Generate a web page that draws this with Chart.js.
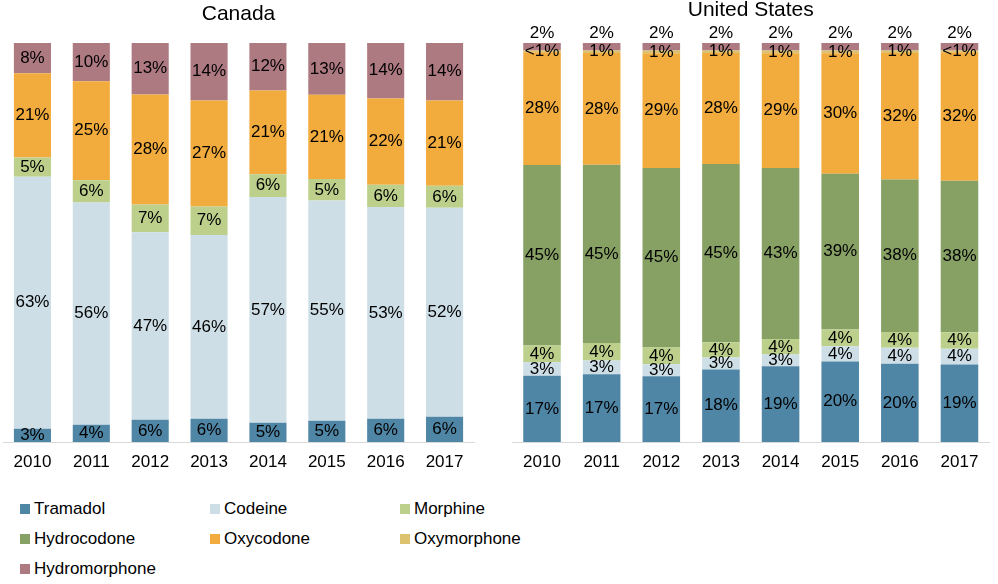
<!DOCTYPE html>
<html>
<head>
<meta charset="utf-8">
<script src="https://cdn.jsdelivr.net/npm/chart.js@4.4.0/dist/chart.umd.min.js"></script>
<style>
    body { margin: 0; background: #fff; font-family: "Liberation Sans", Arial, sans-serif; }
    #page { position: relative; width: 998px; height: 584px; overflow: hidden; }
    canvas { position: absolute; top: 0; }
    #canadaChart { left: 0; }
    #usChart { left: 500px; }
    #legend { position: absolute; left: 20px; top: 494px; width: 600px; }
    .item { position: absolute; height: 30px; display: flex; align-items: center; font-size: 17px; color: #000; white-space: nowrap; }
    .box { width: 10px; height: 10px; margin-right: 4px; }
</style>
</head>
<body>
<div id="page">
    <canvas id="canadaChart" width="500" height="484"></canvas>
    <canvas id="usChart" width="498" height="484"></canvas>
    <div id="legend"></div>
</div>
<script>
const years = ["2010", "2011", "2012", "2013", "2014", "2015", "2016", "2017"];
const drugs = ["Tramadol", "Codeine", "Morphine", "Hydrocodone", "Oxycodone", "Oxymorphone", "Hydromorphone"];
const colors = ["#4f86a6", "#cddee7", "#bcd08c", "#87a165", "#f2ab3d", "#dcc26f", "#ae7a81"];

// Canada (% of opioid dispensing)
const caTramadol = [3.3, 4.3, 5.6, 5.8, 4.8, 5.3, 5.8, 6.3];
const caCodeine = [63.2, 55.7, 47.0, 46.1, 56.6, 55.2, 53.1, 52.4];
const caMorphine = [4.8, 5.6, 6.9, 7.1, 5.7, 5.4, 5.6, 5.5];
const caOxycodone = [21.1, 24.8, 27.6, 26.6, 21.0, 21.1, 21.6, 21.4];
const caHydromorphone = [7.6, 9.6, 12.9, 14.4, 11.9, 13.0, 13.9, 14.4];

// United States
const usTramadol = [16.6, 17.0, 16.5, 18.2, 19.0, 20.2, 19.6, 19.4];
const usCodeine = [3.4, 3.4, 3.0, 3.0, 2.9, 3.8, 4.0, 4.0];
const usMorphine = [4.2, 4.4, 4.2, 3.8, 3.9, 4.2, 4.0, 4.1];
const usHydrocodone = [45.2, 44.7, 45.0, 44.7, 42.9, 39.0, 38.2, 38.0];
const usOxycodone = [28.3, 28.0, 28.7, 27.8, 28.7, 30.2, 31.7, 32.2];
const usOxymorphone = [0.4, 0.6, 0.7, 0.6, 0.7, 0.7, 0.6, 0.4];
const usHydromorphone = [1.9, 1.9, 1.9, 1.9, 1.9, 1.9, 1.9, 1.9];

const labelFont = "17px 'Liberation Sans', Arial, sans-serif";

function pctText(v) {
    if (v < 0.5) return "<1%";
    return Math.round(v) + "%";
}

// draws the percentage inside each segment (or above the bar when asked)
const segmentLabels = {
    id: "segmentLabels",
    afterDatasetsDraw(chart) {
        const c = chart.ctx;
        c.save();
        c.font = labelFont;
        c.fillStyle = "#000";
        c.textAlign = "center";
        c.textBaseline = "middle";
        chart.data.datasets.forEach(function (ds, i) {
            chart.getDatasetMeta(i).data.forEach(function (bar, j) {
                const v = ds.data[j];
                if (!v) return;
                let y = (bar.y + bar.base) / 2;
                if (ds.labelAbove) y = bar.y - 10;
                c.fillText(pctText(v), bar.x, y);
            });
        });
        c.restore();
    }
};

function makeSet(name, values, above) {
    const k = drugs.indexOf(name);
    return {
        label: name,
        data: values,
        backgroundColor: colors[k],
        borderWidth: 0,
        categoryPercentage: 1,
        barPercentage: 0.63,
        labelAbove: !!above
    };
}

function makeChart(id, title, sets, pad, titlePad) {
    return new Chart(document.getElementById(id), {
        type: "bar",
        data: { labels: years, datasets: sets },
        plugins: [segmentLabels],
        options: {
            responsive: false,
            animation: false,
            layout: { padding: pad },
            plugins: {
                legend: { display: false },
                tooltip: { enabled: false },
                title: {
                    display: true,
                    text: title,
                    color: "#000",
                    font: { family: "'Liberation Sans', Arial, sans-serif", size: 21, weight: "normal", lineHeight: 1 },
                    padding: titlePad
                }
            },
            scales: {
                x: {
                    stacked: true,
                    grid: { display: false, drawTicks: false },
                    border: { display: true, color: "#d9d9d9", width: 1 },
                    ticks: { color: "#000", padding: 10, font: { family: "'Liberation Sans', Arial, sans-serif", size: 17 } }
                },
                y: {
                    stacked: true,
                    display: false,
                    min: 0,
                    max: 100
                }
            }
        }
    });
}

makeChart("canadaChart", "Canada", [
    makeSet("Tramadol", caTramadol),
    makeSet("Codeine", caCodeine),
    makeSet("Morphine", caMorphine),
    makeSet("Oxycodone", caOxycodone),
    makeSet("Hydromorphone", caHydromorphone)
], { left: 3, right: 26, top: 0, bottom: 1.6 }, { top: 3.5, bottom: 18.5 });

makeChart("usChart", "United States", [
    makeSet("Tramadol", usTramadol),
    makeSet("Codeine", usCodeine),
    makeSet("Morphine", usMorphine),
    makeSet("Hydrocodone", usHydrocodone),
    makeSet("Oxycodone", usOxycodone),
    makeSet("Oxymorphone", usOxymorphone),
    makeSet("Hydromorphone", usHydromorphone, true)
], { left: 12.2, right: 8.7, top: 0, bottom: 1.6 }, { top: 0, bottom: 22 });

// shared legend, three columns
const legend = document.getElementById("legend");
const colX = [0, 190, 380];
drugs.forEach(function (name, i) {
    const item = document.createElement("div");
    item.className = "item";
    item.style.left = colX[i % 3] + "px";
    item.style.top = Math.floor(i / 3) * 30 + "px";
    const box = document.createElement("span");
    box.className = "box";
    box.style.background = colors[i];
    item.appendChild(box);
    item.appendChild(document.createTextNode(name));
    legend.appendChild(item);
});
</script>
</body>
</html>
